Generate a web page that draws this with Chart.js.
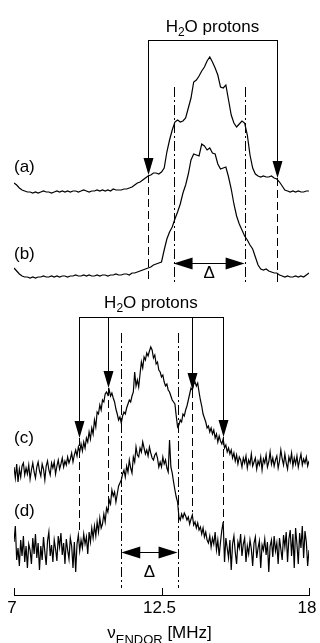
<!DOCTYPE html>
<html>
<head>
<meta charset="utf-8">
<script src="https://cdn.jsdelivr.net/npm/chart.js@4.4.1/dist/chart.umd.min.js"></script>
<style>
  html, body { margin: 0; padding: 0; background: #fff; }
  #wrap { width: 320px; height: 643px; }
</style>
</head>
<body>
<div id="wrap"><canvas id="endorChart" width="320" height="643"></canvas></div>
<script>
/* ---------- SWEEP GRID ---------- */
const FREQ_MIN = 7;
const FREQ_MAX = 18;
const STEP_AB = 0.1;   // upper pair sampled every 100 kHz
const STEP_CD = 0.05;  // lower pair sampled every 50 kHz

/* ---------- SPECTRA (relative intensity, arb. units) ---------- */
const traceA = [
  9, 7, 4, 2, 1, 0, 0, -1, 0, -1,
  0, 1, 0, 0, -1, 0, 1, 0, 1, 0,
  1, 0, 1, 1, 0, 1, 2, 1, 0, 1,
  1, 2, 1, 2, 1, 2, 1, 3, 2, 2,
  2, 3, 3, 4, 5, 7, 9, 10, 12, 14,
  16, 17, 19, 19, 18, 20, 24, 40, 52, 62,
  70, 72, 70, 71, 74, 84, 94, 110, 112, 116,
  121, 125, 131, 135, 130, 124, 117, 105, 104, 107,
  92, 77, 69, 65, 68, 71, 69, 57, 37, 24,
  18, 16, 15, 16, 15, 15, 16, 14, 13, 10,
  6, 2, 1, 0, 1, 0, 1, 0, 0, 1,
  1
];

const traceB = [
  9, 6, 3, 1, 0, 0, -1, 0, -1, 0,
  0, 1, 0, 0, 1, 0, 1, 0, 1, 1,
  0, 1, 1, 2, 1, 1, 2, 1, 2, 1,
  1, 2, 1, 2, 2, 1, 2, 2, 3, 2,
  2, 3, 3, 2, 4, 4, 5, 6, 7, 8,
  9, 10, 12, 13, 14, 15, 27, 38, 45, 50,
  58, 65, 73, 84, 92, 103, 117, 123, 122, 121,
  133, 131, 127, 129, 124, 123, 113, 108, 109, 110,
  100, 88, 73, 61, 53, 47, 41, 37, 32, 28,
  20, 12, 8, 7, 8, 6, 5, 4, 4, 2,
  1, 0, 1, 0, 0, 1, 0, 1, 0, 2,
  4
];

const traceC = [
  5, -6, 8, -10, 3, -5, 6, 9, -3, 4,
  -2, 7, -7, 2, 9, 0, -6, 5, 10, 1,
  -4, 8, 3, -8, 6, 11, 2, -3, 9, 4,
  10, -2, 6, 12, 3, 8, 14, 5, 11, 7,
  15, 9, 13, 19, 10, 17, 22, 16, 25, 20,
  28, 21, 30, 24, 34, 30, 40, 33, 44, 38,
  52, 45, 60, 58, 67, 62, 72, 70, 78, 80,
  77, 82, 76, 79, 74, 70, 63, 58, 52, 55,
  49, 56, 60, 58, 64, 68, 72, 70, 76, 80,
  100, 86, 92, 85, 98, 110, 104, 115, 112, 119,
  116, 121, 125, 122, 114, 117, 108, 110, 102, 100,
  95, 97, 90, 86, 88, 82, 80, 76, 72, 70,
  68, 56, 45, 47, 52, 50, 58, 56, 62, 66,
  72, 78, 84, 82, 88, 90, 86, 89, 80, 72,
  66, 58, 54, 50, 44, 46, 40, 44, 38, 42,
  34, 38, 30, 36, 31, 28, 33, 24, 27, 20,
  24, 18, 22, 14, 19, 11, 17, 8, 15, 12,
  5, 14, 9, 16, 4, 12, 8, 18, 6, 10,
  14, 3, 11, 7, 15, 2, 13, 9, 17, 5,
  10, 20, 8, 14, 6, 12, 16, 4, 11, 22,
  13, 7, 18, 9, 3, 15, 10, 19, 6, 14,
  8, 16, 5, 12, 18, 7, 13, 9, 15, 6, 11
];

const traceD = [
  10, 26, -8, 4, -14, 12, -4, 16, -10, 6,
  -16, 8, 2, -12, 14, -2, 18, -6, 9, -18,
  6, -8, 15, 0, -13, 11, 20, -4, 7, -10,
  12, 3, -9, 16, 5, 19, -3, 9, -12, 13,
  2, -7, 14, 6, -16, 10, -20, 8, 17, 1,
  12, 4, 18, 8, 15, -2, 20, 10, 24, 14,
  26, 16, 30, 20, 34, 24, 28, 38, 30, 44,
  40, 52, 48, 62, 56, 60, 50, 58, 66, 69,
  72, 78, 82, 75, 86, 80, 92, 84, 79, 95,
  90, 105, 97, 95, 104, 100, 110, 104, 98, 102,
  96, 105, 99, 94, 92, 97, 99, 94, 85, 90,
  85, 95, 88, 92, 84, 80, 112, 85, 79, 70,
  62, 55, 50, 35, 32, 38, 34, 39, 36, 32,
  35, 28, 33, 37, 27, 30, 24, 29, 22, 25,
  18, 24, 15, 20, 12, 9, 16, 5, 14, 8,
  20, 2, 12, -4, 10, 22, 30, -10, 14, 4,
  -6, 12, -18, 8, 16, 0, -12, 10, 4, 18,
  -4, 8, 14, -10, 6, -2, 12, 3, -14, 9,
  15, -6, 4, 11, -16, 7, 2, 13, -3, 10,
  -20, 6, 12, -5, 16, 1, 9, -12, 14, 3,
  -8, 17, 5, 20, -10, 13, 22, -4, 18, -16,
  24, 8, -12, 19, 4, 26, -6, 21, 10, -14, 2
];

// vertical offsets of the stacked spectra
const OFFSET_A = 403;
const OFFSET_B = 318;
const OFFSET_C = 123;
const OFFSET_D = 43;

const TRACE_LABELS = ["(a)", "(b)", "(c)", "(d)"];

/* ---------- AXIS ---------- */
const TICK_VALUES = [7, 12.5, 18];
const TICK_LABELS = ["7", "12.5", "18"];

/* ---------- MARKERS (MHz) ---------- */
// water proton couplings, upper pair (a)/(b)
const UPPER_H2O_FREQ = [12.0, 16.8];
const UPPER_H2O_TIP = [420, 417];
// water proton couplings, lower pair (c)/(d)
const LOWER_H2O_FREQ = [9.42, 10.5, 13.64, 14.79];
const LOWER_H2O_TIP = [157, 207, 205, 158];
const LOWER_H2O_END = [63, 85, 83, 72];
// width of the central line
const UPPER_DELTA = [12.95, 15.6];
const LOWER_DELTA = [11.0, 13.1];

const FONT = '"Liberation Sans", Arial, Helvetica, sans-serif';
const INK = "#000";

function sweep(values, step, offset) {
  return values.map((v, i) => ({ x: FREQ_MIN + i * step, y: v + offset }));
}

function traceSet(values, step, offset) {
  return {
    data: sweep(values, step, offset),
    borderColor: INK,
    borderWidth: 1.2,
    pointRadius: 0,
    tension: 0,
    fill: false
  };
}

/* ---------- DRAW HELPERS ---------- */
function crisp(v) {
  return Math.round(v) + 0.5;
}

function vline(ctx, x, y1, y2, dash) {
  ctx.setLineDash(dash || []);
  ctx.beginPath();
  ctx.moveTo(crisp(x), y1);
  ctx.lineTo(crisp(x), y2);
  ctx.stroke();
  ctx.setLineDash([]);
}

function hline(ctx, x1, x2, y) {
  ctx.beginPath();
  ctx.moveTo(x1, crisp(y));
  ctx.lineTo(x2, crisp(y));
  ctx.stroke();
}

function head(ctx, tx, ty, dir, len, half) {
  ctx.beginPath();
  ctx.moveTo(tx, ty);
  if (dir === "down") {
    ctx.lineTo(tx - half, ty - len);
    ctx.lineTo(tx + half, ty - len);
  } else if (dir === "left") {
    ctx.lineTo(tx + len, ty - half);
    ctx.lineTo(tx + len, ty + half);
  } else {
    ctx.lineTo(tx - len, ty - half);
    ctx.lineTo(tx - len, ty + half);
  }
  ctx.closePath();
  ctx.fill();
}

function runs(ctx, parts, x, base, align) {
  let total = 0;
  parts.forEach(p => {
    ctx.font = `${p.size}px ${FONT}`;
    p.w = ctx.measureText(p.text).width;
    total += p.w;
  });
  let cur = align === "left" ? x : x - total / 2;
  parts.forEach(p => {
    ctx.font = `${p.size}px ${FONT}`;
    ctx.fillText(p.text, cur, base + (p.dy || 0));
    cur += p.w;
  });
}

function h2oLabel(ctx, cx, base) {
  runs(ctx, [
    { text: "H", size: 17 },
    { text: "2", size: 12, dy: 4 },
    { text: "O protons", size: 17 }
  ], cx, base, "center");
}

function deltaArrow(ctx, x1, x2, y) {
  hline(ctx, x1 + 10, x2 - 10, y);
  head(ctx, x1, crisp(y), "left", 19, 6);
  head(ctx, x2, crisp(y), "right", 19, 6);
}

const DASH = [8, 4];
const DASH_DOT = [10, 3, 2, 3];

/* ---------- MARKER PLUGIN ---------- */
const endorMarks = {
  id: "endorMarks",
  afterDatasetsDraw(chart) {
    const { ctx, scales: { x, y } } = chart;
    const px = v => x.getPixelForValue(v);
    const py = v => y.getPixelForValue(v);

    ctx.save();
    ctx.strokeStyle = INK;
    ctx.fillStyle = INK;
    ctx.lineWidth = 1;
    ctx.textBaseline = "alphabetic";

    // axis ticks point up into the plot
    TICK_VALUES.forEach((t, i) => {
      vline(ctx, px(t), py(0), py(7));
      ctx.textAlign = "center";
      ctx.font = `17px ${FONT}`;
      ctx.fillText(TICK_LABELS[i], px(t) - 2, py(-18));
    });
    ctx.textAlign = "left";
    runs(ctx, [
      { text: "\u03bd", size: 17 },
      { text: "ENDOR", size: 13, dy: 6 },
      { text: " [MHz]", size: 17 }
    ], px(12.5) - 2, py(-43), "center");

    // trace labels
    ctx.textBaseline = "middle";
    ctx.font = `17px ${FONT}`;
    [OFFSET_A + 25, OFFSET_B + 23, OFFSET_C + 34, OFFSET_D + 41].forEach((lv, i) => {
      ctx.fillText(TRACE_LABELS[i], px(FREQ_MIN), py(lv));
    });
    ctx.textBaseline = "alphabetic";

    // upper H2O bracket
    const upTop = py(555);
    hline(ctx, crisp(px(UPPER_H2O_FREQ[0])), crisp(px(UPPER_H2O_FREQ[1])), upTop);
    UPPER_H2O_FREQ.forEach((f, i) => {
      const tip = py(UPPER_H2O_TIP[i]);
      vline(ctx, px(f), upTop, tip - 14);
      head(ctx, crisp(px(f)), tip, "down", 17, 5);
      vline(ctx, px(f), tip, py(312), DASH);
    });
    h2oLabel(ctx, (px(UPPER_H2O_FREQ[0]) + px(UPPER_H2O_FREQ[1])) / 2, py(563));

    UPPER_DELTA.forEach(f => vline(ctx, px(f), py(508), py(312), DASH_DOT));
    deltaArrow(ctx, px(UPPER_DELTA[0]), px(UPPER_DELTA[1]), py(332));

    // lower H2O bracket
    const lowTop = py(278);
    hline(ctx, crisp(px(LOWER_H2O_FREQ[0])), crisp(px(LOWER_H2O_FREQ[3])), lowTop);
    LOWER_H2O_FREQ.forEach((f, i) => {
      const tip = py(LOWER_H2O_TIP[i]);
      vline(ctx, px(f), lowTop, tip - 14);
      head(ctx, crisp(px(f)), tip, "down", 17, 5);
      vline(ctx, px(f), tip, py(LOWER_H2O_END[i]), DASH);
    });
    h2oLabel(ctx, (px(LOWER_H2O_FREQ[0]) + px(LOWER_H2O_FREQ[3])) / 2, py(287));

    LOWER_DELTA.forEach(f => vline(ctx, px(f), py(262), py(7), DASH_DOT));
    deltaArrow(ctx, px(LOWER_DELTA[0]), px(LOWER_DELTA[1]), py(43));

    // delta labels
    ctx.textAlign = "center";
    ctx.textBaseline = "middle";
    ctx.font = `17px ${FONT}`;
    ctx.fillText("\u0394", (px(UPPER_DELTA[0]) + px(UPPER_DELTA[1])) / 2, py(322));
    ctx.fillText("\u0394", (px(LOWER_DELTA[0]) + px(LOWER_DELTA[1])) / 2, py(23));

    ctx.restore();
  }
};

/* ---------- CHART ---------- */
new Chart(document.getElementById("endorChart"), {
  type: "line",
  data: {
    datasets: [
      traceSet(traceA, STEP_AB, OFFSET_A),
      traceSet(traceB, STEP_AB, OFFSET_B),
      traceSet(traceC, STEP_CD, OFFSET_C),
      traceSet(traceD, STEP_CD, OFFSET_D)
    ]
  },
  options: {
    responsive: false,
    devicePixelRatio: 1,
    animation: false,
    layout: { padding: { left: 14, right: 11, top: 0, bottom: 48 } },
    plugins: { legend: { display: false }, tooltip: { enabled: false } },
    scales: {
      x: {
        type: "linear",
        min: FREQ_MIN,
        max: FREQ_MAX,
        grid: { display: false, drawTicks: false },
        border: { display: true, color: INK, width: 1 },
        ticks: { display: false }
      },
      y: {
        type: "linear",
        min: 0,
        max: 595,
        display: false
      }
    }
  },
  plugins: [endorMarks]
});
</script>
</body>
</html>
